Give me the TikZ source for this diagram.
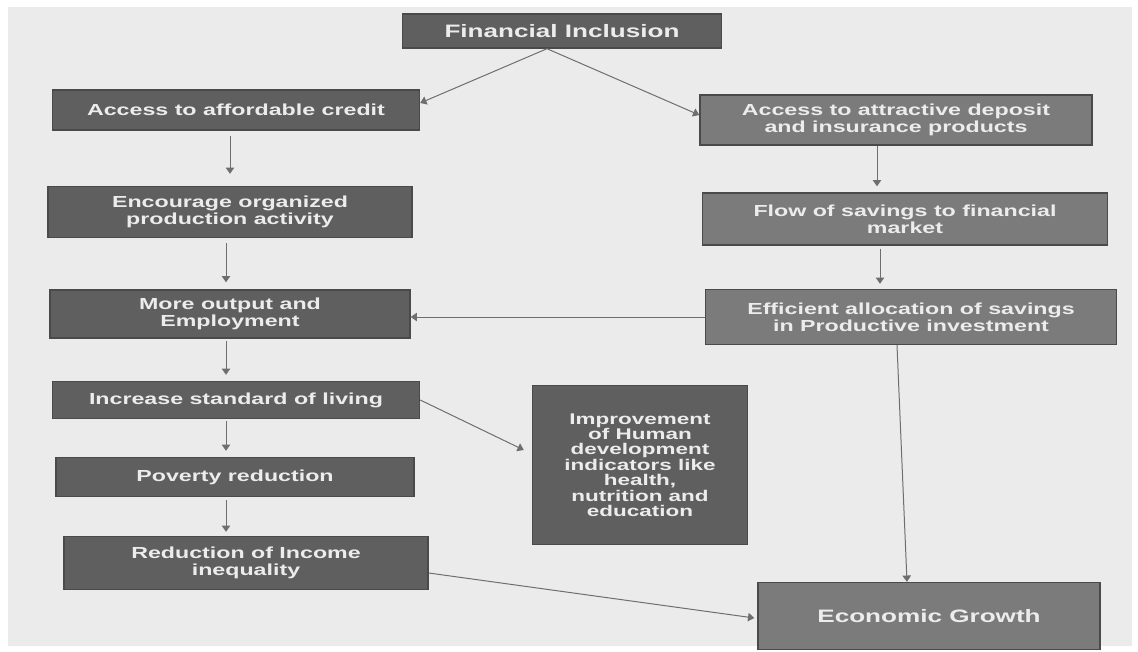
\documentclass[tikz,border=0pt]{standalone}
\usepackage{fontspec}
\setmainfont{Liberation Sans}[FakeStretch=1.45]
\usepackage{xcolor}
\usepackage{tikz}
\usetikzlibrary{arrows.meta, positioning, calc}
\definecolor{paper}{HTML}{EBEBEB}
\definecolor{boxDark}{HTML}{5F5F5F}
\definecolor{boxLight}{HTML}{7B7B7B}
\definecolor{edge}{HTML}{4A4A4A}
\definecolor{txt}{HTML}{ECECEC}
\definecolor{wire}{HTML}{6E6E6E}

\begin{document}
\begin{tikzpicture}[x=1pt, y=-1pt, font=\fontsize{16pt}{17pt}\selectfont\bfseries]
    \tikzset{
      b/.style={rectangle, draw=edge, line width=0.5mm, fill=boxDark, text=txt,
                align=center, inner sep=1mm},
      bl/.style={b, fill=boxLight},
      f/.style={-{Triangle[length=2.2mm, width=3mm]}, line width=0.35mm, color=wire}
    }
    \useasboundingbox (0,0) rectangle (1138,652);
    \fill[paper] (8,7) rectangle (1132,646);
    % top
    \node[b, minimum width=319pt, minimum height=34pt,
          font=\fontsize{18pt}{20pt}\selectfont\bfseries] (fin) at (562,31) {Financial Inclusion};
    % left column
    \node[b, minimum width=367pt, minimum height=40pt] (cre) at (236,110) {Access to affordable credit};
    \node[b, minimum width=364pt, minimum height=51pt] (enc) at (230,212) {Encourage organized\\production activity};
    \node[b, minimum width=360pt, minimum height=48pt] (out) at (230,314) {More output and\\Employment};
    \node[b, minimum width=367pt, minimum height=37pt] (liv) at (236,400) {Increase standard of living};
    \node[b, minimum width=358pt, minimum height=39pt] (pov) at (235,477) {Poverty reduction};
    \node[b, minimum width=364pt, minimum height=53pt] (ine) at (246,563) {Reduction of Income\\inequality};
    % right column
    \node[bl, minimum width=392pt, minimum height=50pt] (dep) at (896,120) {Access to attractive deposit\\and insurance products};
    \node[bl, minimum width=405pt, minimum height=52pt] (sav) at (905,219) {Flow of savings to financial\\market};
    \node[bl, minimum width=411pt, minimum height=55pt] (eff) at (911,317) {Efficient allocation of savings\\in Productive investment};
    \node[b, minimum width=215pt, minimum height=159pt,
          font=\fontsize{15.5pt}{15.4pt}\selectfont\bfseries] (hum) at (640,465)
          {Improvement\\of Human\\development\\indicators like\\health,\\nutrition and\\education};
    \node[bl, minimum width=342pt, minimum height=67pt,
          font=\fontsize{18pt}{20pt}\selectfont\bfseries] (gro) at (929,616) {Economic Growth};
    % arrows
    \coordinate (top) at ($(fin.south)+(-15,0)$);
    \draw[f] (top) -- (cre.north east |- 0,103);
    \draw[f] (top) -- (dep.west |- 0,115);
    \draw[f] ($(cre.south)+(-6,5)$) -- ($(enc.north)+(0,-12)$);
    \draw[f] ($(enc.south)+(-4,5)$) -- ($(out.north)+(-4,-7)$);
    \draw[f] ($(out.south)+(-4,2)$) -- ($(liv.north)+(-10,-6)$);
    \draw[f] ($(liv.south)+(-10,2)$) -- ($(pov.north)+(-9,-6)$);
    \draw[f] ($(pov.south)+(-9,3)$) -- ($(ine.north)+(-20,-4)$);
    \draw[f] ($(dep.south)+(-19,0)$) -- ($(sav.north)+(-28,-6)$);
    \draw[f] ($(sav.south)+(-25,3)$) -- ($(eff.north)+(-31,-5)$);
    \draw[f] (eff.west) -- (out.east |- eff.west);
    \draw[f] (liv.east) -- ($(hum.west)+(-8,-15)$);
    \draw[f] ($(eff.south)+(-14,0)$) -- (gro.north -| 907,0);
    \draw[f] ($(ine.east)+(0,10)$) -- ($(gro.west)+(-3,2)$);
\end{tikzpicture}
\end{document}
